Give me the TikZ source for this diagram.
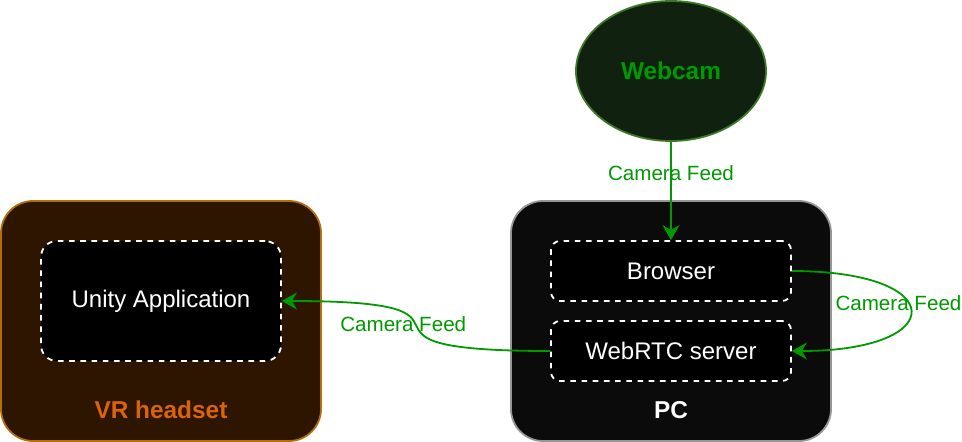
\documentclass[tikz,border=0pt]{standalone}
\usepackage{fontspec}
\setmainfont{Liberation Sans}
\usetikzlibrary{arrows.meta,shapes.geometric}
\definecolor{feedgreen}{RGB}{0,153,0}
\definecolor{vrfill}{RGB}{46,21,0}
\definecolor{vrline}{RGB}{180,110,10}
\definecolor{vrtext}{RGB}{217,100,12}
\definecolor{pcfill}{RGB}{11,11,11}
\definecolor{pcline}{RGB}{150,150,150}
\definecolor{camfill}{RGB}{16,34,15}
\definecolor{camline}{RGB}{60,120,40}
\begin{document}
\begin{tikzpicture}[x=1pt,y=1pt]
\tikzstyle{every node}+=[inner sep=0pt]
\tikzstyle{device}=[draw, line width=1.8pt, rounded corners=32pt, minimum width=320pt, minimum height=240pt]
\tikzstyle{devlabel}=[font=\fontsize{24.4}{29}\selectfont\bfseries]
\tikzstyle{app}=[draw=white, dash pattern=on 5.6pt off 5.6pt, line width=1.8pt, fill=black, text=white, minimum width=240pt, font=\fontsize{24}{29}\selectfont]
\tikzstyle{feed}=[draw=feedgreen, line width=1.8pt, -{Stealth[length=15pt,width=17pt,inset=5pt]}]
\tikzstyle{feedlabel}=[text=feedgreen, font=\fontsize{20.6}{25}\selectfont]
\useasboundingbox (0,0) rectangle (962,-442);
% devices
\node [device, fill=vrfill, draw=vrline] (vr) at (161,-321) {};
\node [devlabel, text=vrtext] (vrname) at (161,-410) {VR headset};
\node [device, fill=pcfill, draw=pcline] (pc) at (671,-321) {};
\node [devlabel, text=white] (pcname) at (671,-410) {PC};
\node [ellipse, draw=camline, fill=camfill, line width=1.8pt, minimum width=190pt, minimum height=140pt, text=feedgreen, devlabel] (webcam) at (671,-71) {Webcam};
% applications
\node [app, rounded corners=16pt, minimum height=120pt] (unity) at (161,-301) {Unity Application};
\node [app, rounded corners=9pt, minimum height=60pt] (browser) at (671,-271) {Browser};
\node [app, rounded corners=9pt, minimum height=60pt] (webrtc) at (671,-351) {WebRTC server};
% camera feed
\draw [feed] (webcam) -- node [feedlabel, pos=0.32] {Camera Feed} (browser);
\draw [feed] (browser.east) .. controls (950,-271) and (950,-351) .. node [feedlabel, pos=0.5, xshift=-12pt, yshift=8pt] {Camera Feed} (webrtc.east);
\draw [feed] (webrtc.west) .. controls (310,-351) and (520,-301) .. node [feedlabel, pos=0.5, xshift=-12pt, yshift=2pt] {Camera Feed} (unity.east);
\end{tikzpicture}
\end{document}
